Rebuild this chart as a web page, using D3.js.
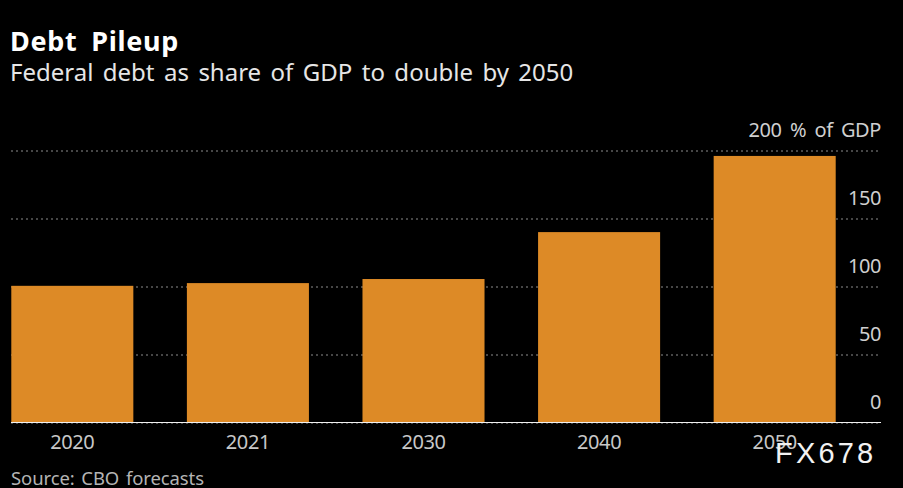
<!DOCTYPE html>
<html>
<head>
<meta charset="utf-8">
<script src="https://cdn.jsdelivr.net/npm/d3@7"></script>
<style>
	html, body { margin: 0; padding: 0; background: #000; overflow: hidden; }
	text { font-family: "Noto Sans", sans-serif; }
</style>
</head>
<body>
<div id="chart"></div>
<script>
var categories = ["2020", "2021", "2030", "2040", "2050"];
var debtShare = [100.5, 102.5, 105.5, 140, 196];
var yTicks = [0, 50, 100, 150, 200];

var width = 903, height = 488;

var svg = d3.select("#chart").append("svg")
	.attr("width", width)
	.attr("height", height)
	.style("display", "block");

var x = d3.scaleBand()
	.domain(categories)
	.range([11.3, 835.7])
	.paddingInner(0.305)
	.paddingOuter(0);

var y = d3.scaleLinear()
	.domain([0, 200])
	.range([422.5, 150.5]);

// dotted grid lines and right hand labels
var yAxis = d3.axisRight(y)
	.tickValues(yTicks)
	.tickSize(870)
	.tickFormat(function(d) { return d == 200 ? "200 % of GDP" : d; });

var yG = svg.append("g")
	.attr("transform", "translate(11,0)")
	.call(yAxis);
yG.select(".domain").remove();
yG.selectAll("line")
	.attr("stroke", "#8c8c8c")
	.attr("stroke-width", 1)
	.attr("stroke-dasharray", "2,3");
yG.selectAll("text")
	.attr("x", 870)
	.attr("dy", "-0.72em")
	.attr("text-anchor", "end")
	.attr("fill", "#cfcfcf")
	.style("font-size", "20px")
	.style("letter-spacing", "-0.4px")
	.style("word-spacing", "3.5px");

// bars
svg.append("g").selectAll("rect")
	.data(debtShare)
	.enter().append("rect")
	.attr("x", function(d, i) { return x(categories[i]); })
	.attr("y", function(d) { return y(d); })
	.attr("width", x.bandwidth())
	.attr("height", function(d) { return y(0) - y(d); })
	.attr("fill", "#dd8a26");

// baseline and year labels
var xAxis = d3.axisBottom(x).tickSize(0).tickPadding(12);
var xG = svg.append("g")
	.attr("transform", "translate(0,422.5)")
	.call(xAxis);
xG.select(".domain").remove();
xG.selectAll("text")
	.attr("fill", "#c8c8c8")
	.style("font-size", "20px")
	.style("letter-spacing", "-0.4px");

svg.append("line")
	.attr("x1", 11)
	.attr("x2", 881)
	.attr("y1", y(0))
	.attr("y2", y(0))
	.attr("stroke", "#f0f0f0")
	.attr("stroke-width", 1.2);

// titles
svg.append("text")
	.attr("x", 10).attr("y", 51)
	.attr("fill", "#fff")
	.style("font-size", "27px")
	.style("font-weight", "bold")
	.style("letter-spacing", "0.7px")
	.style("word-spacing", "6px")
	.text("Debt Pileup");

svg.append("text")
	.attr("x", 10).attr("y", 81)
	.attr("fill", "#e6e6e6")
	.style("font-size", "24px")
	.style("word-spacing", "3.2px")
	.text("Federal debt as share of GDP to double by 2050");

svg.append("text")
	.attr("x", 11).attr("y", 485)
	.attr("fill", "#b4b4b4")
	.style("font-size", "18.5px")
	.style("word-spacing", "2px")
	.style("letter-spacing", "-0.1px")
	.text("Source: CBO forecasts");

// watermark
svg.append("text")
	.attr("x", 775).attr("y", 463)
	.attr("fill", "#f2f2f2")
	.style("font-family", "Liberation Sans")
	.style("font-size", "29px")
	.style("letter-spacing", "3.2px")
	.text("FX678");
</script>
</body>
</html>
